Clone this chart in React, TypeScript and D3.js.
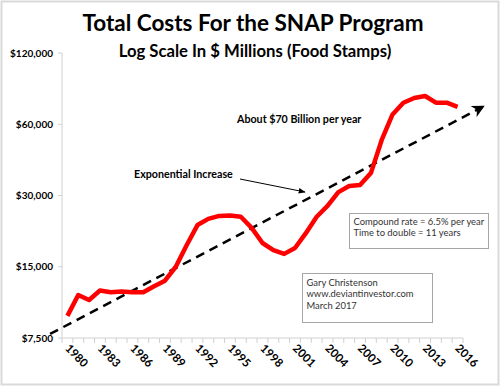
import React, { useEffect, useRef } from "react";
import * as d3 from "d3";

// SNAP costs, $ millions
const years = [
  1980, 1981, 1982, 1983, 1984, 1985, 1986, 1987, 1988, 1989, 1990, 1991, 1992,
  1993, 1994, 1995, 1996, 1997, 1998, 1999, 2000, 2001, 2002, 2003, 2004, 2005,
  2006, 2007, 2008, 2009, 2010, 2011, 2012, 2013, 2014, 2015, 2016,
];
const costs = [
  9300, 11400, 10850, 11900, 11700, 11800, 11700, 11700, 12400, 13100, 15000,
  18500, 22500, 23900, 24600, 24700, 24400, 21900, 18900, 17650, 17000, 18000,
  20800, 24400, 27100, 31000, 32900, 33200, 37300, 51500, 66000, 74000, 77500,
  79000, 74000, 74000, 71000,
];
const yTicks = [7500, 15000, 30000, 60000, 120000];
const labelYears = [1980, 1983, 1986, 1989, 1992, 1995, 1998, 2001, 2004, 2007, 2010, 2013, 2016];
// dashed exponential trend: start and arrow tip
const trendYears = [1978.4, 2018.3];
const trendValues = [7800, 71000];

const W = 500,
  H = 386;
const margin = { top: 53, right: 37, bottom: 48, left: 62 };
const font = "Lato, 'Open Sans', sans-serif";

export default function App() {
  const ref = useRef<SVGSVGElement>(null);

  useEffect(() => {
    const svg = d3.select(ref.current);
    svg.selectAll("*").remove();

    const x0 = margin.left,
      x1 = W - margin.right,
      y0 = H - margin.bottom,
      y1 = margin.top;

    const x = d3.scaleBand<number>().domain(years).range([x0, x1]);
    const xYear = d3
      .scaleLinear()
      .domain([years[0] - 0.5, years[years.length - 1] + 0.5])
      .range([x0, x1]);
    const y = d3.scaleLog().domain([7500, 120000]).range([y0, y1]);

    // frame
    svg
      .append("rect")
      .attr("x", 1.5)
      .attr("y", 1.5)
      .attr("width", W - 3)
      .attr("height", H - 3)
      .attr("fill", "white")
      .attr("stroke", "#d9d9d9")
      .attr("stroke-width", 2);

    // axes
    svg
      .append("line")
      .attr("x1", x0)
      .attr("x2", x0)
      .attr("y1", y1)
      .attr("y2", y0)
      .attr("stroke", "#d0d0d0");
    svg
      .append("line")
      .attr("x1", x0)
      .attr("x2", x1)
      .attr("y1", y0)
      .attr("y2", y0)
      .attr("stroke", "#d0d0d0");

    // x ticks at category boundaries
    const bounds = years.map((d) => x(d)!).concat([x1]);
    svg
      .selectAll(".xt")
      .data(bounds)
      .enter()
      .append("line")
      .attr("x1", (d) => d)
      .attr("x2", (d) => d)
      .attr("y1", y0)
      .attr("y2", y0 + 5)
      .attr("stroke", "#d0d0d0");

    svg
      .selectAll(".xl")
      .data(labelYears)
      .enter()
      .append("text")
      .attr("transform", (d) => `translate(${x(d)! + x.bandwidth() / 2 - 3},${y0 + 11}) rotate(45)`)
      .attr("font-family", font)
      .attr("font-weight", "bold")
      .attr("font-size", 11.5)
      .text((d) => d);

    // y ticks
    svg
      .selectAll(".yt")
      .data(yTicks)
      .enter()
      .append("line")
      .attr("x1", x0 - 4)
      .attr("x2", x0)
      .attr("y1", (d) => y(d))
      .attr("y2", (d) => y(d))
      .attr("stroke", "#d0d0d0");
    svg
      .selectAll(".yl")
      .data(yTicks)
      .enter()
      .append("text")
      .attr("x", x0 - 9)
      .attr("y", (d) => y(d))
      .attr("dy", "0.35em")
      .attr("text-anchor", "end")
      .attr("font-family", font)
      .attr("font-weight", "bold")
      .attr("font-size", 10)
      .text((d) => "$" + d3.format(",")(d));

    // arrow markers
    const defs = svg.append("defs");
    defs
      .append("marker")
      .attr("id", "bigArrow")
      .attr("viewBox", "0 0 10 10")
      .attr("refX", 8)
      .attr("refY", 5)
      .attr("markerWidth", 5)
      .attr("markerHeight", 5)
      .attr("markerUnits", "strokeWidth")
      .attr("orient", "auto")
      .append("path")
      .attr("d", "M0,0 L10,5 L0,10 L3,5 Z")
      .attr("fill", "black");
    defs
      .append("marker")
      .attr("id", "thinArrow")
      .attr("viewBox", "0 0 10 10")
      .attr("refX", 9)
      .attr("refY", 5)
      .attr("markerWidth", 7)
      .attr("markerHeight", 7)
      .attr("markerUnits", "strokeWidth")
      .attr("orient", "auto")
      .append("path")
      .attr("d", "M0,1 L10,5 L0,9 Z")
      .attr("fill", "black");

    // trend line
    svg
      .append("line")
      .attr("x1", xYear(trendYears[0]))
      .attr("y1", y(trendValues[0]))
      .attr("x2", xYear(trendYears[1]))
      .attr("y2", y(trendValues[1]))
      .attr("stroke", "black")
      .attr("stroke-width", 2.5)
      .attr("stroke-dasharray", "9,6")
      .attr("marker-end", "url(#bigArrow)");

    // cost line
    const line = d3
      .line<number>()
      .x((d, i) => x(years[i])! + x.bandwidth() / 2)
      .y((d) => y(d));
    svg
      .append("path")
      .datum(costs)
      .attr("d", line)
      .attr("fill", "none")
      .attr("stroke", "#ff0000")
      .attr("stroke-width", 4.5)
      .attr("stroke-linejoin", "round");

    // titles
    svg
      .append("text")
      .attr("x", 253)
      .attr("y", 31)
      .attr("text-anchor", "middle")
      .attr("font-family", font)
      .attr("font-weight", "bold")
      .attr("font-size", 22.5)
      .text("Total Costs For the SNAP Program");
    svg
      .append("text")
      .attr("x", 255)
      .attr("y", 57)
      .attr("text-anchor", "middle")
      .attr("font-family", font)
      .attr("font-weight", "bold")
      .attr("font-size", 16.7)
      .text("Log Scale In $ Millions (Food Stamps)");

    // annotations
    svg
      .append("text")
      .attr("x", 237)
      .attr("y", 123)
      .attr("font-family", font)
      .attr("font-weight", "bold")
      .attr("font-size", 10.7)
      .text("About $70 Billion per year");
    svg
      .append("text")
      .attr("x", 134)
      .attr("y", 178)
      .attr("font-family", font)
      .attr("font-weight", "bold")
      .attr("font-size", 10.7)
      .text("Exponential Increase");
    svg
      .append("line")
      .attr("x1", 240)
      .attr("y1", 179)
      .attr("x2", 305)
      .attr("y2", 192)
      .attr("stroke", "black")
      .attr("stroke-width", 1)
      .attr("marker-end", "url(#thinArrow)");

    // boxes
    const box = (bx: number, by: number, bw: number, bh: number, lines: string[], ly: number) => {
      svg
        .append("rect")
        .attr("x", bx)
        .attr("y", by)
        .attr("width", bw)
        .attr("height", bh)
        .attr("fill", "white")
        .attr("stroke", "#a6a6a6");
      svg
        .append("g")
        .selectAll("text")
        .data(lines)
        .enter()
        .append("text")
        .attr("x", bx + 4)
        .attr("y", (d, i) => by + ly + i * 11.5)
        .attr("font-family", font)
        .attr("font-size", 9.4)
        .attr("fill", "#333")
        .text((d) => d);
    };
    box(349.5, 213.5, 139, 35, ["Compound rate = 6.5% per year", "Time to double = 11 years"], 11);
    box(302.5, 273.5, 130, 49, ["Gary Christenson", "www.deviantinvestor.com", "March 2017"], 12);
  }, []);

  return <svg ref={ref} width={W} height={H} style={{ position: "absolute", left: 0, top: 0 }}></svg>;
}
